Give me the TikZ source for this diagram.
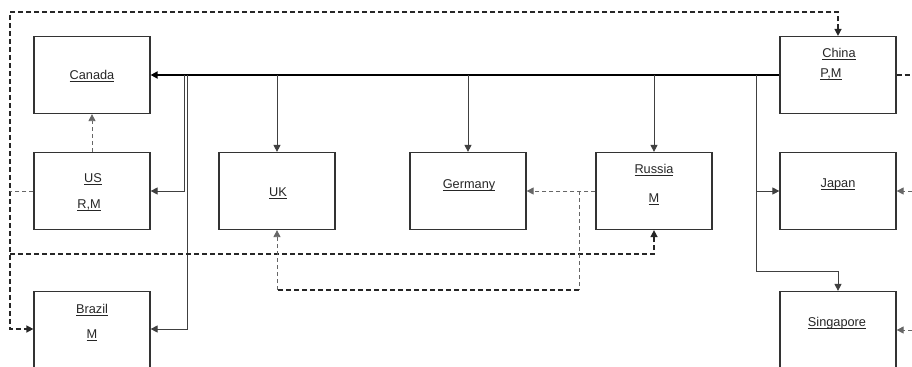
\documentclass[tikz,border=0pt]{standalone}
\usepackage{fontspec}
\setmainfont{Liberation Sans}
\usetikzlibrary{arrows.meta}
% underlined country / role text, rule sits just below the baseline
\newcommand{\ulname}[1]{\leavevmode\setbox0\hbox{#1}\rlap{\rule[-3.4bp]{\wd0}{1bp}}\box0}
\definecolor{edgegray}{gray}{0.2}
\definecolor{linkgray}{gray}{0.25}
\definecolor{dashgray}{gray}{0.4}
\begin{document}
\begin{tikzpicture}[x=1bp,y=-1bp,
  country/.style={draw=edgegray, line width=1.2bp, minimum width=116bp,
    minimum height=77bp, inner sep=0pt, fill=white},
  ctext/.style={anchor=base, inner sep=0pt, text=black!85,
    font=\fontsize{12.8}{15}\selectfont},
  tip/.style={-{Triangle[length=7bp,width=7bp]}},
  bothtips/.style={{Triangle[length=7bp,width=7bp]}-{Triangle[length=7bp,width=7bp]}},
  trunk/.style={line width=2bp, black},
  branch/.style={line width=0.9bp, linkgray},
  bigdash/.style={line width=1.4bp, black!85, dash pattern=on 5bp off 3bp},
  smalldash/.style={line width=0.8bp, dashgray, dash pattern=on 4bp off 3bp},
]
\useasboundingbox (0,0) rectangle (912,366);
\clip (0,0) rectangle (912,366);

% country boxes
\node[country] (canada)    at (92,75)   {};
\node[country] (us)        at (92,191)  {};
\node[country] (uk)        at (277,191) {};
\node[country] (germany)   at (468,191) {};
\node[country] (russia)    at (654,191) {};
\node[country] (china)     at (838,75)  {};
\node[country] (japan)     at (838,191) {};
\node[country] (brazil)    at (92,330)  {};
\node[country] (singapore) at (838,330) {};

% box texts
\node[ctext] (canada-t)    at (92,79)    {\ulname{Canada}};
\node[ctext] (us-t)        at (93,182)   {\ulname{US}};
\node[ctext] (us-r)        at (89,208)   {\ulname{R,M}};
\node[ctext] (uk-t)        at (278,196)  {\ulname{UK}};
\node[ctext] (germany-t)   at (469,188)  {\ulname{Germany}};
\node[ctext] (russia-t)    at (654,173)  {\ulname{Russia}};
\node[ctext] (russia-r)    at (654,202)  {\ulname{M}};
\node[ctext] (china-t)     at (839,57)   {\ulname{China}};
\node[ctext] (china-r)     at (831,77)   {\ulname{P,M}};
\node[ctext] (japan-t)     at (838,187)  {\ulname{Japan}};
\node[ctext] (brazil-t)    at (92,313)   {\ulname{Brazil}};
\node[ctext] (brazil-r)    at (92,338)   {\ulname{M}};
\node[ctext] (singapore-t) at (837,326)  {\ulname{Singapore}};

% junctions and corners
\coordinate (jus)   at (184,75);
\coordinate (jbr)   at (187,75);
\coordinate (juk)   at (277,75);
\coordinate (jde)   at (468,75);
\coordinate (jru)   at (654,75);
\coordinate (jea)   at (756,75);
\coordinate (jjp)   at (756,191);
\coordinate (cnw)   at (838,12);
\coordinate (lnw)   at (10,12);
\coordinate (lsw)   at (10,329);
\coordinate (lmid)  at (10,254);
\coordinate (lus)   at (10,191);
\coordinate (jgr)   at (579,191);
\coordinate (bgr)   at (579,290);
\coordinate (buk)   at (277,290);
\coordinate (rcn)   at (912,75);
\coordinate (rjp)   at (912,191);
\coordinate (rsg)   at (912,330);

% trunk from China to Canada
\draw[trunk, tip] (china.west) -- (canada.east);

% solid branches off the trunk
\draw[branch, tip] (jus) |- (us.east);
\draw[branch, tip] (jbr) |- (brazil.east |- 0,329);
\draw[branch, tip] (juk) -- (uk.north);
\draw[branch, tip] (jde) -- (germany.north);
\draw[branch, tip] (jru) -- (russia.north);
\draw[branch, tip] (jea) -- (jjp) -- (japan.west);
\draw[branch, tip] (jjp) |- (756,271) -| (singapore.north);

% outer dashed loop between China and Brazil
\draw[bigdash, bothtips]
  (china.north) -- (cnw) -- (lnw) -- (lsw) -- (brazil.west |- lsw);
\draw[bigdash, tip] (lmid) -| (russia.south);
\draw[smalldash] (us.west) -- (lus);

% dashed links among the middle boxes
\draw[smalldash, tip] (us.north) -- (canada.south);
\draw[smalldash, tip] (russia.west) -- (germany.east);
\draw[smalldash] (jgr) -- (bgr);
\draw[bigdash] (bgr) -- (buk);
\draw[smalldash, tip] (buk) -- (uk.south);

% dashed links leaving on the right
\draw[bigdash] (china.east) -- (rcn);
\draw[smalldash, tip] (rjp) -- (japan.east);
\draw[smalldash, tip] (rsg) -- (singapore.east);
\end{tikzpicture}
\end{document}
